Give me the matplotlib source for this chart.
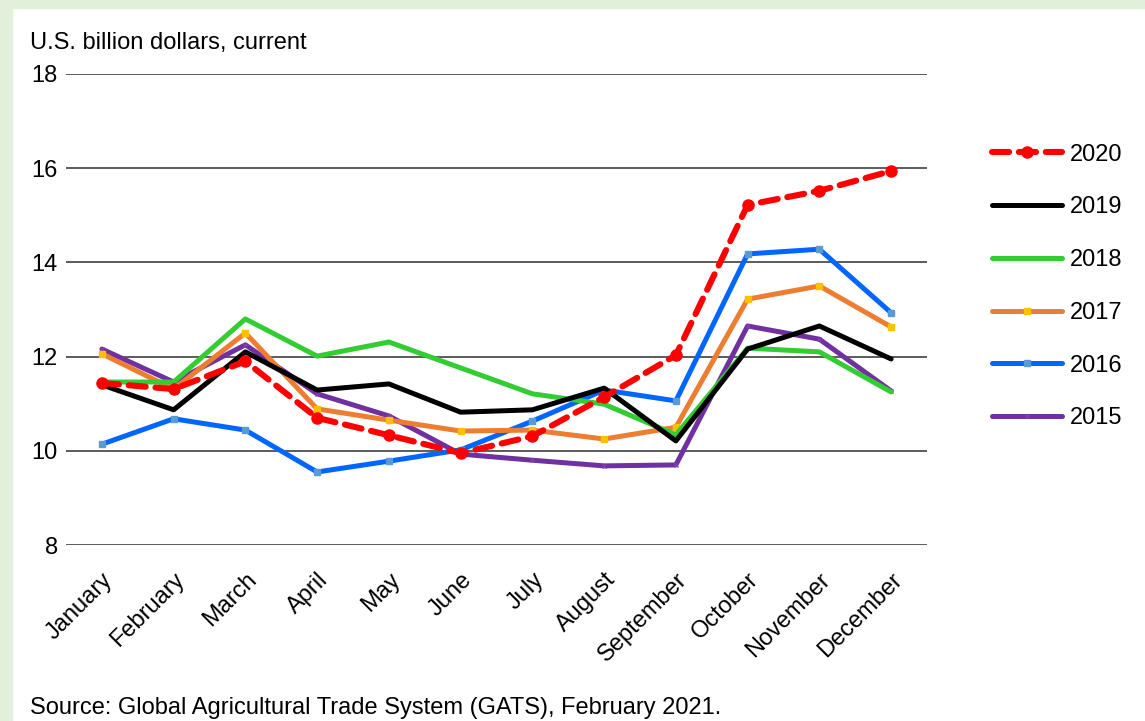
import matplotlib.pyplot as plt
from matplotlib.patches import Rectangle

plt.rcParams["font.family"] = ["Liberation Sans", "DejaVu Sans"]

months = ["January", "February", "March", "April", "May", "June", "July",
          "August", "September", "October", "November", "December"]

y2020 = [11.44, 11.31, 11.90, 10.70, 10.33, 9.95, 10.31, 11.14, 12.03, 15.22, 15.52, 15.94]
y2019 = [11.40, 10.87, 12.10, 11.29, 11.42, 10.82, 10.87, 11.33, 10.21, 12.16, 12.65, 11.95]
y2018 = [11.46, 11.46, 12.80, 12.01, 12.31, 11.76, 11.21, 10.99, 10.34, 12.18, 12.10, 11.25]
y2017 = [12.06, 11.31, 12.50, 10.89, 10.65, 10.42, 10.44, 10.25, 10.50, 13.22, 13.50, 12.63]
y2016 = [10.14, 10.68, 10.44, 9.55, 9.78, 10.02, 10.63, 11.29, 11.06, 14.18, 14.28, 12.93]
y2015 = [12.16, 11.46, 12.25, 11.21, 10.74, 9.93, 9.80, 9.68, 9.70, 12.65, 12.37, 11.27]

y_ticks = [8, 10, 12, 14, 16, 18]

fig = plt.figure(figsize=(11.45, 7.21), dpi=100)
green = "#E2EFDA"
fig.patches.append(Rectangle((0, 0), 12 / 1145, 1, transform=fig.transFigure, color=green, zorder=0))
fig.patches.append(Rectangle((0, 1 - 8 / 721), 1, 8 / 721, transform=fig.transFigure, color=green, zorder=0))

ax = fig.add_axes([66 / 1145, 1 - 545 / 721, 861 / 1145, 471 / 721])
x = list(range(len(months)))

lw = 3.6
ax.plot(x, y2020, color="#FF0000", lw=4.4, ls=(0, (2.8, 1.6)), dash_capstyle="round",
        marker="o", ms=8, label="2020", zorder=7)
ax.plot(x, y2019, color="#000000", lw=lw, solid_capstyle="round", label="2019", zorder=6)
ax.plot(x, y2018, color="#33CC33", lw=lw, solid_capstyle="round", label="2018", zorder=5)
ax.plot(x, y2017, color="#ED7D31", lw=lw, solid_capstyle="round", marker="s", ms=4,
        mfc="#FFC000", mec="#FFC000", label="2017", zorder=4)
ax.plot(x, y2016, color="#0066FF", lw=lw, solid_capstyle="round", marker="s", ms=4,
        mfc="#5B9BD5", mec="#5B9BD5", label="2016", zorder=3)
ax.plot(x, y2015, color="#7030A0", lw=lw, solid_capstyle="round", marker="x", ms=3,
        mec="#7F3FB0", label="2015", zorder=2)

ax.set_xlim(-0.5, len(months) - 0.5)
ax.set_ylim(8, 18)
ax.set_yticks(y_ticks)
ax.set_yticklabels([str(t) for t in y_ticks], fontsize=17)
ax.set_xticks(x)
ax.set_xticklabels(months, fontsize=17, rotation=45, ha="right", va="top",
                   rotation_mode="anchor")
ax.tick_params(length=0)
ax.tick_params(axis="x", pad=17)
ax.tick_params(axis="y", pad=6)
ax.grid(axis="y", color="#404040", lw=1.2)
ax.set_axisbelow(True)
for s in ax.spines.values():
    s.set_visible(False)

ax.legend(loc="upper left", bbox_to_anchor=(1.064, 0.872), frameon=False,
          fontsize=17, handlelength=3.0, labelspacing=1.3, handletextpad=0.3,
          borderaxespad=0)

fig.text(30 / 1145, 1 - 43 / 721, "U.S. billion dollars, current", fontsize=17, va="center")
fig.text(30 / 1145, 1 - 708 / 721, "Source: Global Agricultural Trade System (GATS), February 2021.",
         fontsize=17, va="center")

fig.savefig("out.png", dpi=100)
